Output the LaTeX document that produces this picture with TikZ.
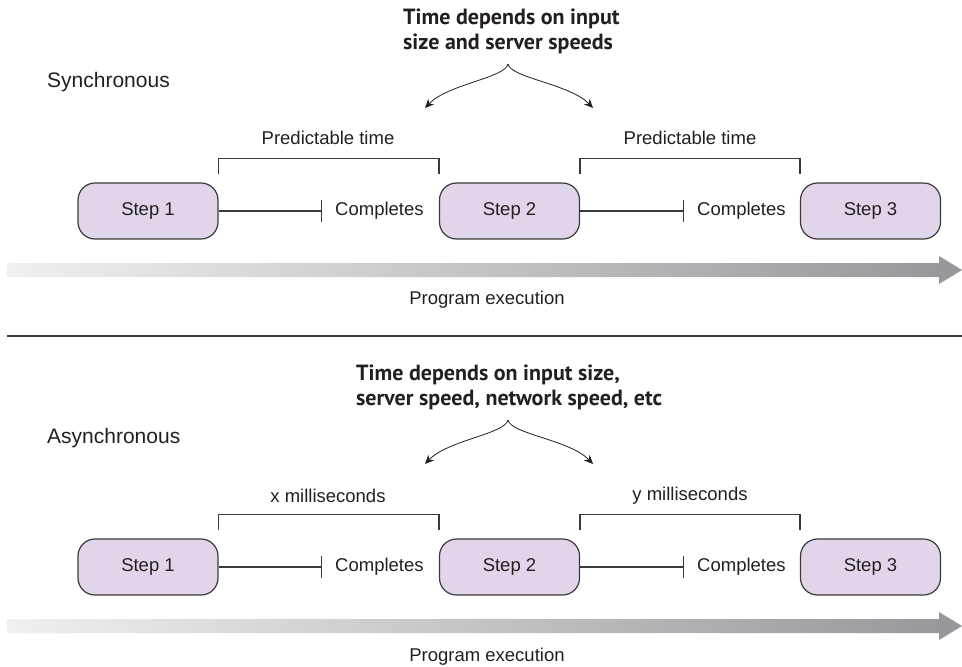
\documentclass[tikz,border=0pt]{standalone}
\usepackage{fontspec}
\setmainfont{Liberation Sans}
\newfontfamily\titlefont{PT Sans}
\usetikzlibrary{arrows.meta,positioning,calc}
\definecolor{boxfill}{HTML}{E1D6E9}
\definecolor{linegray}{HTML}{3A3A3A}
\definecolor{textgray}{HTML}{231F20}
\definecolor{arrowlight}{HTML}{F0F0F1}
\definecolor{arrowdark}{HTML}{96969A}

\tikzset{
  stepbox/.style={draw=linegray, line width=1.2pt, fill=boxfill, rounded corners=17pt,
    minimum width=140pt, minimum height=56pt, font=\fontsize{18.5}{22}\selectfont, text=textgray},
  donelabel/.style={anchor=west, inner sep=0pt, font=\fontsize{18.5}{22}\selectfont, text=textgray},
  spanlabel/.style={inner sep=0pt, font=\fontsize{18.5}{22}\selectfont, text=textgray},
  kindlabel/.style={anchor=west, inner sep=0pt, font=\fontsize{21}{25}\selectfont, text=textgray},
  headline/.style={anchor=west, inner sep=0pt, align=left, text=textgray,
    font=\titlefont\bfseries\fontsize{22}{25}\selectfont},
  stopline/.style={draw=linegray, line width=1.3pt, -{Bar[width=22pt,line width=1.3pt]}},
  bracket/.style={draw=linegray, line width=1.3pt},
  pointer/.style={draw=textgray, line width=0.8pt, -{Stealth[length=9pt,width=8pt]}}
}

\begin{document}
\begin{tikzpicture}[x=1pt, y=-1pt]
  \useasboundingbox (0,0) rectangle (962,667);

  % Synchronous
  \node[kindlabel] (skind) at (47,82) {Synchronous};
  \node[headline] (stitle) at (403,31) {Time depends on input\\size and server speeds};
  \coordinate (sapex) at (508,64);
  \coordinate (sleft) at (425,108);
  \coordinate (sright) at (593,108);
  \draw[pointer] (sapex) .. controls (505,78) and (448,84) .. (sleft);
  \draw[pointer] (sapex) .. controls (511,78) and (570,84) .. (sright);
  \foreach \n/\x in {1/148, 2/509.5, 3/870.5}
    \node[stepbox] (s\n) at (\x,211) {Step \n};
  \foreach \n/\x in {1/335, 2/697} {
    \node[donelabel] (sc\n) at (\x,211) {Completes};
  }
  \draw[stopline] (s1) -- ([xshift=-13pt]sc1.west);
  \draw[stopline] (s2) -- ([xshift=-13pt]sc2.west);
  \node[spanlabel] (sspan1) at (328,138) {Predictable time};
  \node[spanlabel] (sspan2) at (690,138) {Predictable time};
  \draw[bracket] ([yshift=8pt]s1.north east) -- ([yshift=24pt]s1.north east)
    -- ([yshift=24pt]s2.north west) -- ([yshift=8pt]s2.north west);
  \draw[bracket] ([yshift=8pt]s2.north east) -- ([yshift=24pt]s2.north east)
    -- ([yshift=24pt]s3.north west) -- ([yshift=8pt]s3.north west);
  \shade[left color=arrowlight, right color=arrowdark]
    (7,263) -- (939,263) -- (939,256) -- (962,270) -- (939,284) -- (939,277) -- (7,277) -- cycle;
  \node[spanlabel] (sprog) at (487,300) {Program execution};

  % divider
  \draw[linegray, line width=1.2pt] (7,336) -- (962,336);

  % Asynchronous
  \begin{scope}[shift={(0,356)}]
    \node[kindlabel] (akind) at (47,82) {Asynchronous};
    \node[headline] (atitle) at (356,31) {Time depends on input size,\\server speed, network speed, etc};
    \coordinate (aapex) at (508,64);
    \coordinate (aleft) at (425,108);
    \coordinate (aright) at (593,108);
    \draw[pointer] (aapex) .. controls (505,78) and (448,84) .. (aleft);
    \draw[pointer] (aapex) .. controls (511,78) and (570,84) .. (aright);
    \foreach \n/\x in {1/148, 2/509.5, 3/870.5}
      \node[stepbox] (a\n) at (\x,211) {Step \n};
    \foreach \n/\x in {1/335, 2/697} {
      \node[donelabel] (ac\n) at (\x,211) {Completes};
    }
    \draw[stopline] (a1) -- ([xshift=-13pt]ac1.west);
    \draw[stopline] (a2) -- ([xshift=-13pt]ac2.west);
    \node[spanlabel] (aspan1) at (328,140) {x milliseconds};
    \node[spanlabel] (aspan2) at (690,140) {y milliseconds};
    \draw[bracket] ([yshift=8pt]a1.north east) -- ([yshift=24pt]a1.north east)
      -- ([yshift=24pt]a2.north west) -- ([yshift=8pt]a2.north west);
    \draw[bracket] ([yshift=8pt]a2.north east) -- ([yshift=24pt]a2.north east)
      -- ([yshift=24pt]a3.north west) -- ([yshift=8pt]a3.north west);
    \shade[left color=arrowlight, right color=arrowdark]
      (7,263) -- (939,263) -- (939,256) -- (962,270) -- (939,284) -- (939,277) -- (7,277) -- cycle;
    \node[spanlabel] (aprog) at (487,301) {Program execution};
  \end{scope}
\end{tikzpicture}
\end{document}
